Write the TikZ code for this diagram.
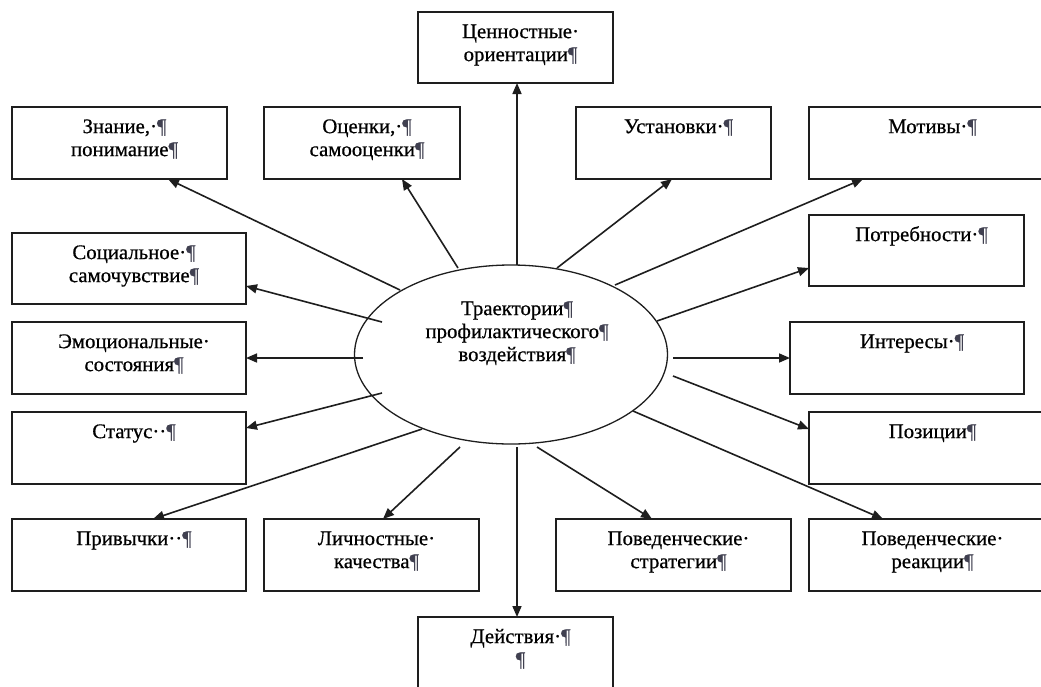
\documentclass[tikz,border=0pt]{standalone}
\usepackage{fontspec}
\setmainfont{Liberation Serif}[FakeBold=0.6]
\usetikzlibrary{arrows.meta,shapes.geometric,calc}
\definecolor{ln}{HTML}{1e1e1e}
\definecolor{pilc}{HTML}{404050}
\newcommand\mypil{{\color{pilc}¶}}
\begin{document}
\begin{tikzpicture}[x=1pt,y=-1pt,
  box/.style={draw=ln, line width=1.8pt, rectangle, anchor=north west, inner sep=0pt, outer sep=0pt},
  lbl/.style={anchor=north, inner sep=0pt, outer sep=0pt, align=center, font=\fontsize{20.8}{23}\selectfont},
  arr/.style={draw=ln, line width=1.6pt, -{Triangle[length=11pt,width=9pt]}}]
\useasboundingbox (0,0) rectangle (1041,686);
\clip (0,0) rectangle (1041,686);
\fill[white] (0,0) rectangle (1041,686);
% boxes
\node[box, minimum width=195, minimum height=71] (ce) at (418,12) {};
\node[box, minimum width=215, minimum height=72] (zn) at (12,107) {};
\node[box, minimum width=196, minimum height=72] (oc) at (264,107) {};
\node[box, minimum width=195, minimum height=72] (us) at (576,107) {};
\node[box, minimum width=237, minimum height=72] (mo) at (809,107) {};
\node[box, minimum width=215, minimum height=71] (po) at (809,215) {};
\node[box, minimum width=234, minimum height=71] (so) at (12,233) {};
\node[box, minimum width=234, minimum height=72] (em) at (12,322) {};
\node[box, minimum width=234, minimum height=72] (in) at (790,322) {};
\node[box, minimum width=234, minimum height=72] (st) at (12,412) {};
\node[box, minimum width=237, minimum height=72] (pz) at (809,412) {};
\node[box, minimum width=234, minimum height=72] (pr) at (12,519) {};
\node[box, minimum width=215, minimum height=72] (li) at (264,519) {};
\node[box, minimum width=235, minimum height=72] (ps) at (556,519) {};
\node[box, minimum width=237, minimum height=72] (pe) at (809,519) {};
\node[box, minimum width=195, minimum height=80] (de) at (418,617) {};
% labels
\node[lbl] (tce) at ($(ce.north)+(5,10)$) {\strut Ценностные·\\ориентации\mypil};
\node[lbl] (tzn) at ($(zn.north)+(5,10)$) {\strut Знание,·\mypil\\понимание\mypil};
\node[lbl] (toc) at ($(oc.north)+(5,10)$) {\strut Оценки,·\mypil\\самооценки\mypil};
\node[lbl] (tus) at ($(us.north)+(5,10)$) {\strut Установки·\mypil};
\node[lbl] (tmo) at ($(mo.north)+(5,10)$) {\strut Мотивы·\mypil};
\node[lbl] (tpo) at ($(po.north)+(5,10)$) {\strut Потребности·\mypil};
\node[lbl] (tso) at ($(so.north)+(5,10)$) {\strut Социальное·\mypil\\самочувствие\mypil};
\node[lbl] (tem) at ($(em.north)+(5,10)$) {\strut Эмоциональные·\\состояния\mypil};
\node[lbl] (tin) at ($(in.north)+(5,10)$) {\strut Интересы·\mypil};
\node[lbl] (tst) at ($(st.north)+(5,10)$) {\strut Статус··\mypil};
\node[lbl] (tpz) at ($(pz.north)+(5,10)$) {\strut Позиции\mypil};
\node[lbl] (tpr) at ($(pr.north)+(5,10)$) {\strut Привычки··\mypil};
\node[lbl] (tli) at ($(li.north)+(5,10)$) {\strut Личностные·\\качества\mypil};
\node[lbl] (tps) at ($(ps.north)+(5,10)$) {\strut Поведенческие·\\стратегии\mypil};
\node[lbl] (tpe) at ($(pe.north)+(5,10)$) {\strut Поведенческие·\\реакции\mypil};
\node[lbl] (tde) at ($(de.north)+(5,10)$) {\strut Действия·\mypil\\\mypil};
% central ellipse
\node[draw=ln, line width=1.3pt, ellipse, inner sep=0pt, outer sep=0pt, minimum width=313, minimum height=179] (el) at (511,354.5) {};
\node[lbl] (tel) at (517,299) {\strut Траектории\mypil\\профилактического\mypil\\воздействия\mypil};
% start points
\coordinate (s1) at (400,290);
\coordinate (s2) at (458,268);
\coordinate (s3) at (517,265);
\coordinate (s4) at (557,268);
\coordinate (s5) at (615,285);
\coordinate (s6) at (657,321);
\coordinate (s7) at (382,322);
\coordinate (s8) at (363,358);
\coordinate (s9) at (673,358);
\coordinate (s10) at (382,393);
\coordinate (s11) at (673,376);
\coordinate (s12) at (422,429);
\coordinate (s13) at (460,447);
\coordinate (s14) at (517,447);
\coordinate (s15) at (537,447);
\coordinate (s16) at (633,411);
% arrows
\draw[arr] (s1) -- ($(zn.south west)+(156,0)$);
\draw[arr] (s2) -- ($(oc.south west)+(138,0)$);
\draw[arr] (s3) -- (s3 |- ce.south);
\draw[arr] (s4) -- ($(us.south west)+(96,0)$);
\draw[arr] (s5) -- ($(mo.south west)+(54,0)$);
\draw[arr] (s6) -- ($(po.west)+(0,17.5)$);
\draw[arr] (s7) -- ($(so.east)+(0,17.5)$);
\draw[arr] (s8) -- (em.east |- s8);
\draw[arr] (s9) -- (in.west |- s9);
\draw[arr] (s10) -- ($(st.east)+(0,-20)$);
\draw[arr] (s11) -- ($(pz.west)+(0,-19)$);
\draw[arr] (s12) -- ($(pr.north west)+(141,0)$);
\draw[arr] (s13) -- ($(li.north west)+(119,0)$);
\draw[arr] (s14) -- (s14 |- de.north);
\draw[arr] (s15) -- ($(ps.north west)+(96,0)$);
\draw[arr] (s16) -- ($(pe.north west)+(74,0)$);
\end{tikzpicture}
\end{document}
